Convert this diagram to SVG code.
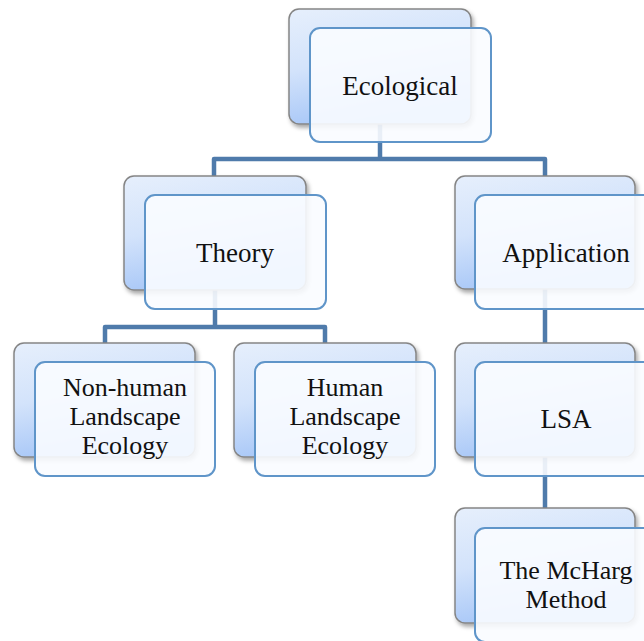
<svg xmlns="http://www.w3.org/2000/svg" width="644" height="641" viewBox="0 0 644 641">
  <defs>
    <linearGradient id="backGrad" x1="0" y1="0" x2="0.3" y2="1">
      <stop offset="0" stop-color="#e6effc"/>
      <stop offset="0.5" stop-color="#d3e3fb"/>
      <stop offset="1" stop-color="#a6c6f7"/>
    </linearGradient>
    <filter id="shadow" x="-10%" y="-10%" width="125%" height="130%">
      <feDropShadow dx="2" dy="3" stdDeviation="2" flood-color="#000" flood-opacity="0.35"/>
    </filter>
  </defs>
  <style>
    .back { fill: url(#backGrad); stroke: #858585; stroke-width: 1.5; filter: url(#shadow); }
    .front { fill: #fafcff; fill-opacity: 0.9; stroke: #5f95c9; stroke-width: 2; }
    .conn { fill: none; stroke: #4f7bab; stroke-width: 4.5; stroke-linejoin: round; }
    .label { font-family: "Liberation Serif", "Times New Roman", serif; font-size: 27px; fill: #111; text-anchor: middle; }
    .ml { font-size: 26px; }
  </style>
  <rect width="644" height="641" fill="#ffffff"/>
  <g id="connectors">
    <path class="conn" d="M380,124 V159"/>
    <path class="conn" d="M214,176 V159 H545 V176"/>
    <path class="conn" d="M215,290 V327"/>
    <path class="conn" d="M105,343 V327 H325 V343"/>
    <path class="conn" d="M545,289 V343"/>
    <path class="conn" d="M545,457 V508"/>
  </g>
  <g id="node-ecological">
    <rect class="back" x="289" y="9" width="182" height="115" rx="10"/>
    <rect class="front" x="310" y="28" width="181" height="114" rx="10"/>
    <text class="label" x="400" y="95">Ecological</text>
  </g>
  <g id="node-theory">
    <rect class="back" x="124" y="176" width="182" height="114" rx="10"/>
    <rect class="front" x="145" y="195" width="181" height="114" rx="10"/>
    <text class="label" x="235" y="262">Theory</text>
  </g>
  <g id="node-application">
    <rect class="back" x="455" y="176" width="180" height="113" rx="10"/>
    <rect class="front" x="475" y="195" width="181" height="114" rx="10"/>
    <text class="label" x="566" y="262">Application</text>
  </g>
  <g id="node-nonhuman">
    <rect class="back" x="14" y="343" width="181" height="114" rx="10"/>
    <rect class="front" x="35" y="362" width="180" height="114" rx="10"/>
    <text class="label ml" x="125" y="396">Non-human</text>
    <text class="label ml" x="125" y="425">Landscape</text>
    <text class="label ml" x="125" y="454">Ecology</text>
  </g>
  <g id="node-human">
    <rect class="back" x="234" y="343" width="182" height="114" rx="10"/>
    <rect class="front" x="255" y="362" width="180" height="114" rx="10"/>
    <text class="label ml" x="345" y="396">Human</text>
    <text class="label ml" x="345" y="425">Landscape</text>
    <text class="label ml" x="345" y="454">Ecology</text>
  </g>
  <g id="node-lsa">
    <rect class="back" x="455" y="343" width="180" height="114" rx="10"/>
    <rect class="front" x="475" y="362" width="181" height="114" rx="10"/>
    <text class="label" x="566" y="428">LSA</text>
  </g>
  <g id="node-mcharg">
    <rect class="back" x="455" y="508" width="180" height="115" rx="10"/>
    <rect class="front" x="475" y="528" width="181" height="114" rx="10"/>
    <text class="label ml" x="566" y="579">The McHarg</text>
    <text class="label ml" x="566" y="608">Method</text>
  </g>
</svg>
